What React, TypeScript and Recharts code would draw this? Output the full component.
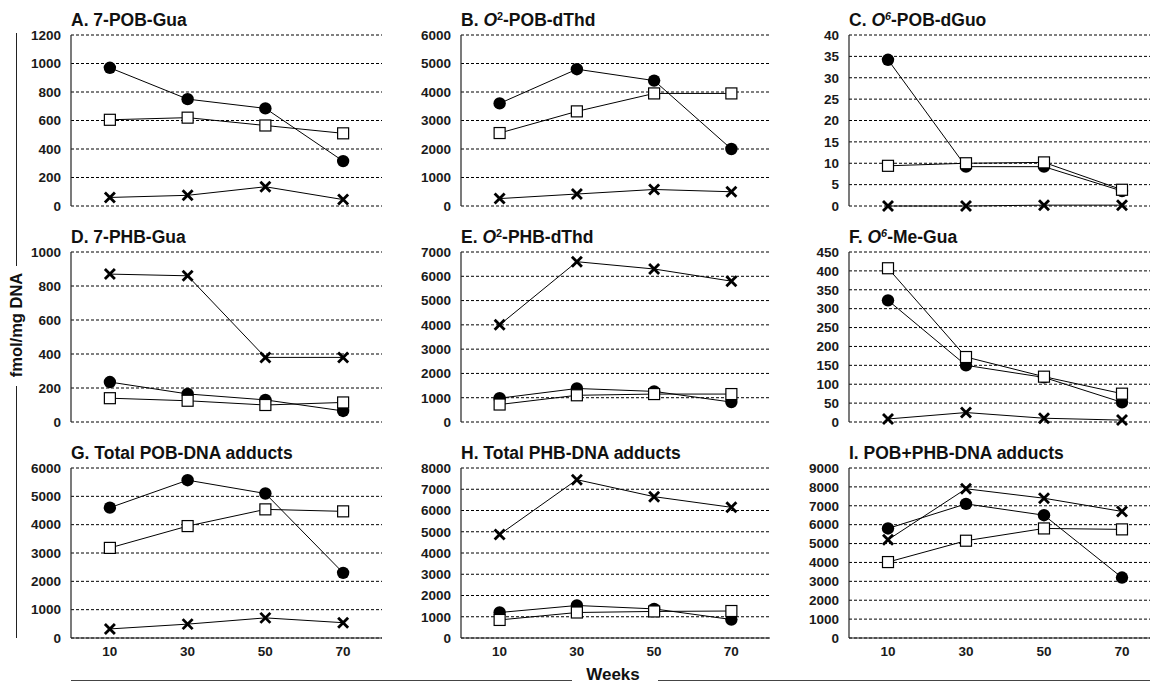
import React from 'react'
import { LineChart, Line, XAxis, YAxis, CartesianGrid } from 'recharts'

const weeks = ['10', '30', '50', '70']

// A. 7-POB-Gua
const aTicks = [0, 200, 400, 600, 800, 1000, 1200]
const aCircle = [970, 750, 685, 315]
const aSquare = [605, 620, 565, 510]
const aCross = [60, 75, 135, 45]

// B. O2-POB-dThd
const bTicks = [0, 1000, 2000, 3000, 4000, 5000, 6000]
const bCircle = [3600, 4800, 4400, 2000]
const bSquare = [2560, 3320, 3950, 3950]
const bCross = [260, 420, 580, 500]

// C. O6-POB-dGuo
const cTicks = [0, 5, 10, 15, 20, 25, 30, 35, 40]
const cCircle = [34.2, 9.2, 9.2, 3.5]
const cSquare = [9.4, 10, 10.2, 3.8]
const cCross = [0, 0, 0.2, 0.2]

// D. 7-PHB-Gua
const dTicks = [0, 200, 400, 600, 800, 1000]
const dCircle = [235, 165, 130, 65]
const dSquare = [140, 125, 100, 115]
const dCross = [870, 860, 380, 380]

// E. O2-PHB-dThd
const eTicks = [0, 1000, 2000, 3000, 4000, 5000, 6000, 7000]
const eCircle = [980, 1380, 1260, 820]
const eSquare = [720, 1100, 1150, 1150]
const eCross = [4000, 6600, 6300, 5800]

// F. O6-Me-Gua
const fTicks = [0, 50, 100, 150, 200, 250, 300, 350, 400, 450]
const fCircle = [322, 150, 118, 52]
const fSquare = [407, 172, 120, 75]
const fCross = [8, 25, 10, 5]

// G. Total POB-DNA adducts
const gTicks = [0, 1000, 2000, 3000, 4000, 5000, 6000]
const gCircle = [4600, 5570, 5100, 2300]
const gSquare = [3180, 3950, 4540, 4470]
const gCross = [320, 490, 710, 540]

// H. Total PHB-DNA adducts
const hTicks = [0, 1000, 2000, 3000, 4000, 5000, 6000, 7000, 8000]
const hCircle = [1200, 1530, 1370, 870]
const hSquare = [850, 1200, 1250, 1270]
const hCross = [4870, 7450, 6650, 6150]

// I. POB+PHB-DNA adducts
const iTicks = [0, 1000, 2000, 3000, 4000, 5000, 6000, 7000, 8000, 9000]
const iCircle = [5800, 7100, 6500, 3200]
const iSquare = [4020, 5150, 5800, 5750]
const iCross = [5200, 7900, 7400, 6700]

const FONT = '"Liberation Sans", Arial, sans-serif'

const colLeft = [71, 461, 849]
const colWidth = [311, 309, 312]
const rowTop = [35, 252, 468]
const rowHeight = [171, 170, 170]

const Sup = ({ children, italic }: { children: React.ReactNode; italic?: boolean }) => (
  <span style={{ fontSize: '0.62em', position: 'relative', top: '-0.55em', fontStyle: italic ? 'italic' : 'normal' }}>
    {children}
  </span>
)

const panels = [
  { title: <>A. 7-POB-Gua</>, ticks: aTicks, circle: aCircle, square: aSquare, cross: aCross },
  { title: <>B. <i>O</i><Sup>2</Sup>-POB-dThd</>, ticks: bTicks, circle: bCircle, square: bSquare, cross: bCross },
  { title: <>C. <i>O</i><Sup italic>6</Sup>-POB-dGuo</>, ticks: cTicks, circle: cCircle, square: cSquare, cross: cCross },
  { title: <>D. 7-PHB-Gua</>, ticks: dTicks, circle: dCircle, square: dSquare, cross: dCross },
  { title: <>E. <i>O</i><Sup>2</Sup>-PHB-dThd</>, ticks: eTicks, circle: eCircle, square: eSquare, cross: eCross },
  { title: <>F. <i>O</i><Sup italic>6</Sup>-Me-Gua</>, ticks: fTicks, circle: fCircle, square: fSquare, cross: fCross },
  { title: <>G. Total POB-DNA adducts</>, ticks: gTicks, circle: gCircle, square: gSquare, cross: gCross },
  { title: <>H. Total PHB-DNA adducts</>, ticks: hTicks, circle: hCircle, square: hSquare, cross: hCross },
  { title: <>I. POB+PHB-DNA adducts</>, ticks: iTicks, circle: iCircle, square: iSquare, cross: iCross },
]

const renderCircle = (props: any) => {
  const { cx, cy, index } = props
  if (cx == null || cy == null) return <g key={`c-${index}`} />
  return <circle key={`c-${index}`} cx={cx} cy={cy} r={6.2} fill="#000" />
}

const renderSquare = (props: any) => {
  const { cx, cy, index } = props
  if (cx == null || cy == null) return <g key={`s-${index}`} />
  return <rect key={`s-${index}`} x={cx - 5.5} y={cy - 5.5} width={11} height={11} fill="#fff" stroke="#000" strokeWidth={1.2} />
}

const renderCross = (props: any) => {
  const { cx, cy, index } = props
  if (cx == null || cy == null) return <g key={`x-${index}`} />
  const s = 5
  return (
    <g key={`x-${index}`} stroke="#000" strokeWidth={2.8}>
      <line x1={cx - s} y1={cy - s} x2={cx + s} y2={cy + s} />
      <line x1={cx - s} y1={cy + s} x2={cx + s} y2={cy - s} />
    </g>
  )
}

const tickStyle = { fontSize: 13.5, fontWeight: 700, fill: '#1a1a1a', fontFamily: FONT }

const Panel = ({ idx }: { idx: number }) => {
  const p = panels[idx]
  const col = idx % 3
  const row = Math.floor(idx / 3)
  const isBottom = row === 2
  const yw = 60
  const mt = 10
  const mb = 10
  const xh = isBottom ? 28 : 0
  const w = yw + colWidth[col] + 2
  const h = mt + rowHeight[row] + xh + mb
  const data = weeks.map((week, i) => ({
    week,
    circle: p.circle[i],
    square: p.square[i],
    cross: p.cross[i],
  }))
  const max = p.ticks[p.ticks.length - 1]
  return (
    <>
      <div
        style={{
          position: 'absolute',
          left: colLeft[col],
          top: rowTop[row] - 25,
          fontSize: 17.5,
          lineHeight: '20px',
          fontWeight: 700,
          color: '#111',
          whiteSpace: 'nowrap',
        }}
      >
        {p.title}
      </div>
      <div style={{ position: 'absolute', left: colLeft[col] - yw, top: rowTop[row] - mt }}>
        <LineChart width={w} height={h} data={data} margin={{ top: mt, right: 2, left: 0, bottom: mb }}>
          <CartesianGrid vertical={false} stroke="#000" strokeDasharray="3 2" strokeWidth={1} />
          <XAxis
            dataKey="week"
            scale="band"
            height={xh}
            tick={isBottom ? tickStyle : false}
            tickLine={false}
            tickSize={0}
            tickMargin={8}
            axisLine={{ stroke: '#222', strokeWidth: 1.2 }}
            interval={0}
          />
          <XAxis
            xAxisId="top"
            dataKey="week"
            orientation="top"
            height={0}
            tick={false}
            tickLine={false}
            axisLine={{ stroke: '#444', strokeWidth: 1.2 }}
          />
          <YAxis
            type="number"
            domain={[0, max]}
            ticks={p.ticks}
            interval={0}
            width={yw}
            tick={tickStyle}
            tickLine={false}
            tickSize={0}
            tickMargin={10}
            axisLine={{ stroke: '#222', strokeWidth: 1.2 }}
          />
          <YAxis
            yAxisId="right"
            orientation="right"
            domain={[0, max]}
            width={0}
            tick={false}
            tickLine={false}
            axisLine={{ stroke: '#444', strokeWidth: 1.2 }}
          />
          <Line type="linear" dataKey="cross" stroke="#000" strokeWidth={1} dot={renderCross} activeDot={false} isAnimationActive={false} />
          <Line type="linear" dataKey="circle" stroke="#000" strokeWidth={1} dot={renderCircle} activeDot={false} isAnimationActive={false} />
          <Line type="linear" dataKey="square" stroke="#000" strokeWidth={1} dot={renderSquare} activeDot={false} isAnimationActive={false} />
        </LineChart>
      </div>
    </>
  )
}

export default function App() {
  return (
    <div
      style={{
        position: 'absolute',
        left: 0,
        top: 0,
        width: 1150,
        height: 686,
        overflow: 'hidden',
        background: '#fff',
        fontFamily: FONT,
      }}
    >
      {panels.map((_, i) => (
        <Panel key={i} idx={i} />
      ))}

      {/* shared y axis title with its bracket line */}
      <div style={{ position: 'absolute', left: 16, top: 33, height: 233, borderLeft: '1px solid #222' }} />
      <div style={{ position: 'absolute', left: 16, top: 386, height: 252, borderLeft: '1px solid #222' }} />
      <div
        style={{
          position: 'absolute',
          left: 16,
          top: 325,
          transform: 'translate(-50%, -50%) rotate(-90deg)',
          fontSize: 16.5,
          fontWeight: 700,
          color: '#111',
          whiteSpace: 'nowrap',
        }}
      >
        fmol/mg DNA
      </div>

      {/* shared x axis title with its bracket line */}
      <div style={{ position: 'absolute', left: 71, top: 680, width: 501, borderTop: '1.5px solid #444' }} />
      <div style={{ position: 'absolute', left: 658, top: 680, width: 492, borderTop: '1.5px solid #444' }} />
      <div
        style={{
          position: 'absolute',
          left: 613,
          top: 665,
          transform: 'translateX(-50%)',
          fontSize: 17,
          lineHeight: '20px',
          fontWeight: 700,
          color: '#111',
          whiteSpace: 'nowrap',
        }}
      >
        Weeks
      </div>
    </div>
  )
}
